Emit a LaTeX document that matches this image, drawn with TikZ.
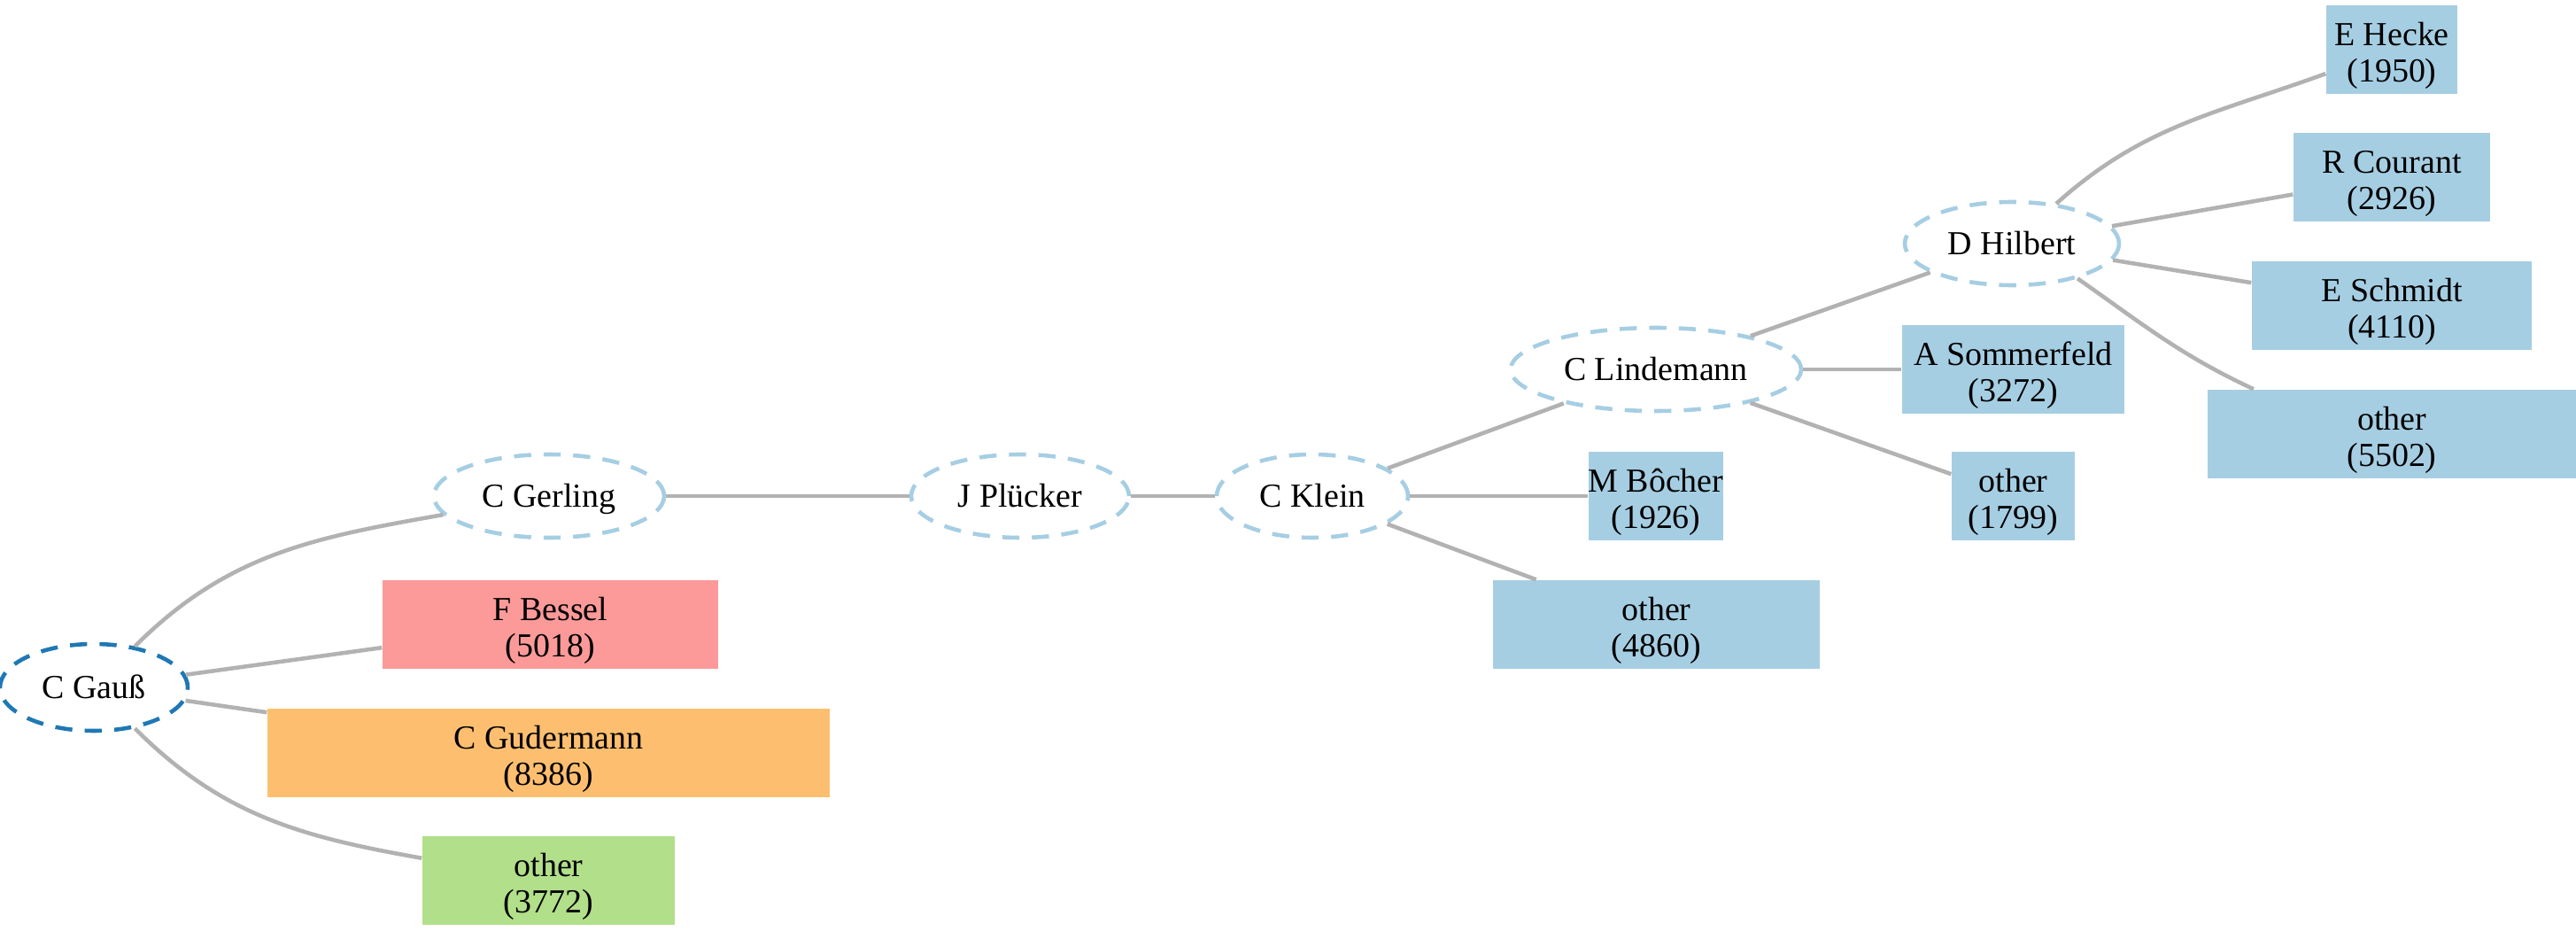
\documentclass[tikz,border=0pt]{standalone}
\usepackage{fontspec}
\setmainfont{Liberation Serif}
\usetikzlibrary{shapes.geometric}

\definecolor{lightblue}{HTML}{A6CEE3}
\definecolor{darkblue}{HTML}{1F78B4}
\definecolor{salmon}{HTML}{FB9A99}
\definecolor{lightorange}{HTML}{FDBF6F}
\definecolor{lightgreen}{HTML}{B2DF8A}

\tikzset{
  mentor/.style={ellipse, draw=lightblue, line width=1.3pt, dash pattern=on 5.5pt off 4pt,
    fill=white, inner sep=0pt, minimum height=0.94cm, text height=7pt, text depth=0pt},
  student/.style={rectangle, fill=lightblue, inner sep=0pt, align=center, minimum height=1cm,
    text height=23pt},
  link/.style={draw=gray!60, line width=1.3pt}
}

\begin{document}
\begin{tikzpicture}[font=\fontsize{10.8}{11.6}\selectfont]
    \useasboundingbox (0,0) rectangle (29.09,10.50);

    \node[mentor, draw=darkblue, minimum width=2.12cm, minimum height=0.98cm] (gauss) at (1.06,2.74) {C Gauß};
    \node[mentor, minimum width=2.60cm] (gerling) at (6.20,4.90) {C Gerling};
    \node[mentor, minimum width=2.46cm] (pluecker) at (11.52,4.90) {J Plücker};
    \node[mentor, minimum width=2.16cm] (klein) at (14.82,4.90) {C Klein};
    \node[mentor, minimum width=3.28cm] (lindemann) at (18.70,6.33) {C Lindemann};
    \node[mentor, minimum width=2.42cm] (hilbert) at (22.72,7.75) {D Hilbert};

    \node[student, fill=salmon, minimum width=3.79cm] (bessel) at (6.215,3.45) {F Bessel\\(5018)};
    \node[student, fill=lightorange, minimum width=6.35cm] (gudermann) at (6.195,2.00) {C Gudermann\\(8386)};
    \node[student, fill=lightgreen, minimum width=2.85cm] (othergauss) at (6.195,0.56) {other\\(3772)};

    \node[student, minimum width=1.48cm] (boecher) at (18.70,4.90) {M Bôcher\\(1926)};
    \node[student, minimum width=3.69cm] (otherklein) at (18.705,3.45) {other\\(4860)};

    \node[student, minimum width=2.51cm] (sommerfeld) at (22.735,6.33) {A Sommerfeld\\(3272)};
    \node[student, minimum width=1.39cm] (otherlindemann) at (22.735,4.90) {other\\(1799)};

    \node[student, minimum width=1.48cm] (hecke) at (27.01,9.94) {E Hecke\\(1950)};
    \node[student, minimum width=2.22cm] (courant) at (27.01,8.50) {R Courant\\(2926)};
    \node[student, minimum width=3.16cm] (schmidt) at (27.01,7.05) {E Schmidt\\(4110)};
    \node[student, minimum width=4.16cm] (otherhilbert) at (27.01,5.60) {other\\(5502)};

    \draw[link] (gauss) to[out=45,in=190] (gerling);
    \draw[link] (gauss) -- (bessel);
    \draw[link] (gauss) -- (gudermann);
    \draw[link] (gauss) to[out=-45,in=170] (othergauss);

    \draw[link] (gerling) -- (pluecker);
    \draw[link] (pluecker) -- (klein);

    \draw[link] (klein) -- (lindemann);
    \draw[link] (klein) -- (boecher);
    \draw[link] (klein) -- (otherklein);

    \draw[link] (lindemann) -- (hilbert);
    \draw[link] (lindemann) -- (sommerfeld);
    \draw[link] (lindemann) -- (otherlindemann);

    \draw[link] (hilbert) to[out=42,in=200] (hecke);
    \draw[link] (hilbert) -- (courant);
    \draw[link] (hilbert) -- (schmidt);
    \draw[link] (hilbert.-28) to[out=-35,in=155] (otherhilbert.162);

  \end{tikzpicture}
\end{document}
